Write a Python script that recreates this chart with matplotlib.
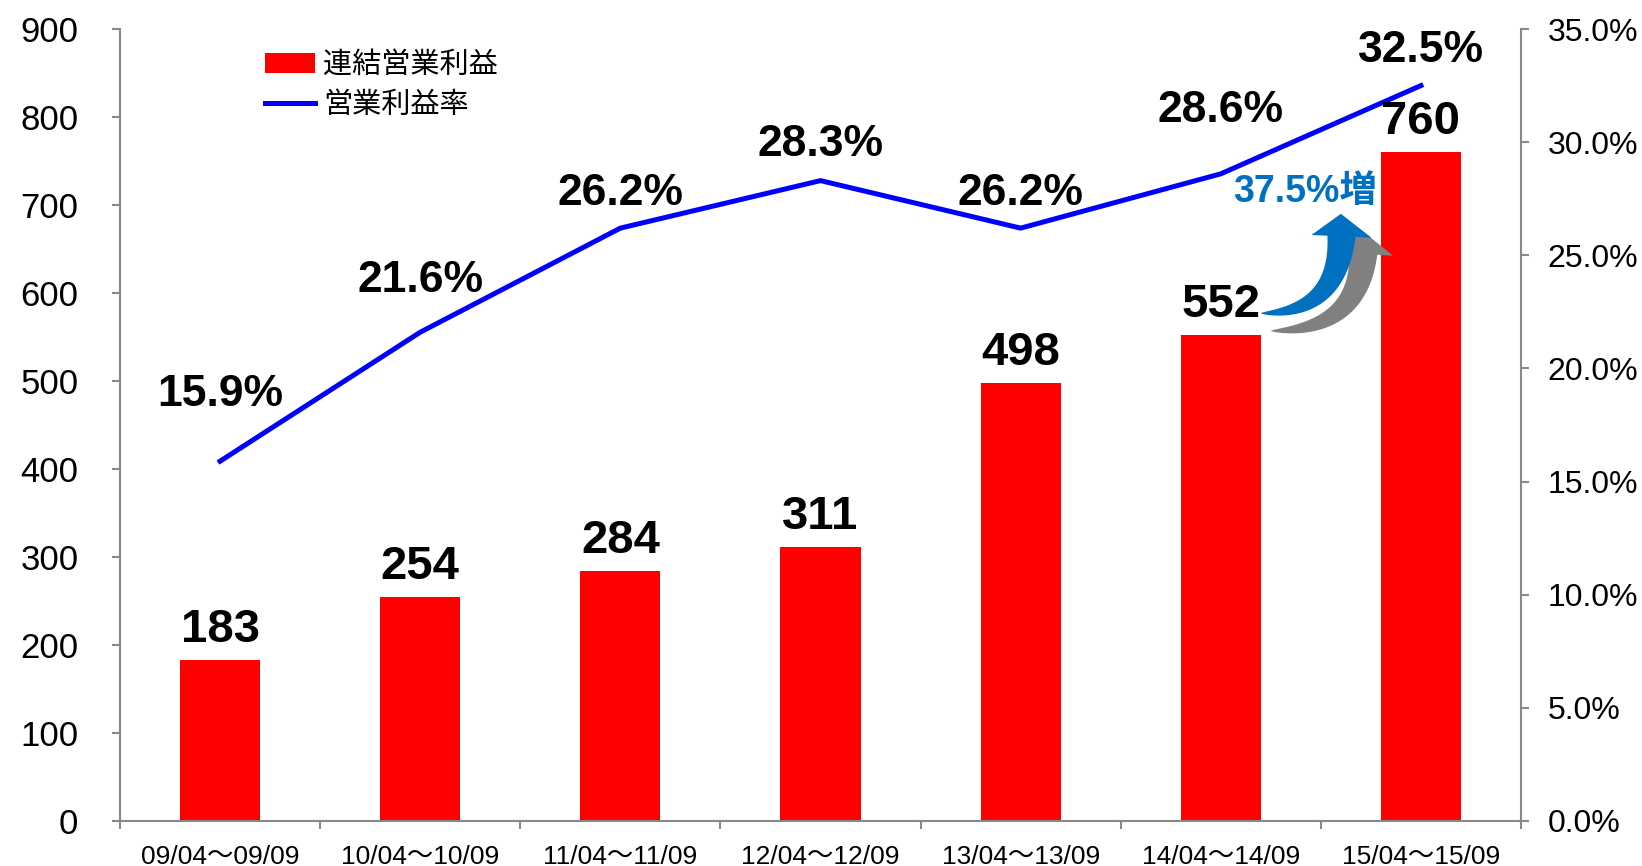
import numpy as np
import matplotlib.pyplot as plt
from matplotlib.patches import Polygon
from matplotlib.transforms import IdentityTransform
from matplotlib.ticker import FuncFormatter

periods = ['09/04～09/09', '10/04～10/09', '11/04～11/09', '12/04～12/09',
           '13/04～13/09', '14/04～14/09', '15/04～15/09']
profit = [183, 254, 284, 311, 498, 552, 760]
margin = [15.9, 21.6, 26.2, 28.3, 26.2, 28.6, 32.5]
growth_label = '37.5%増'

# label offsets (points above the point), hand-tuned like the original
margin_offsets = [40, 29, 17, 18, 17, 37, 17]

fam = ['Liberation Sans', 'Noto Sans CJK JP']
plt.rcParams['font.family'] = fam
gray = '#898989'


def curved_arrow(ax, tail, tip, color, body_w=28, head_w=60, head_l=22, z=5):
    # tapered curved arrow, built in pixel space from data-space end points
    p0 = ax.transData.transform(tail)
    p2 = ax.transData.transform(tip)
    c = np.array([p2[0] + 8, p0[1]])
    t = np.linspace(0, 1, 200)[:, None]
    pts = (1 - t) ** 2 * p0 + 2 * (1 - t) * t * c + t ** 2 * p2
    seg = np.cumsum(np.r_[0, np.hypot(*np.diff(pts, axis=0).T)])
    keep = seg <= seg[-1] - head_l
    body = pts[keep]
    d = np.gradient(body, axis=0)
    d /= np.hypot(d[:, 0], d[:, 1])[:, None]
    nrm = np.c_[-d[:, 1], d[:, 0]]
    w = (seg[keep] / seg[keep][-1]) ** 0.7 * body_w / 2
    left = body + nrm * w[:, None]
    right = body - nrm * w[:, None]
    base, n_end = body[-1], nrm[-1]
    poly = np.vstack([left, base + n_end * head_w / 2, p2,
                      base - n_end * head_w / 2, right[::-1]])
    ax.add_patch(Polygon(poly, closed=True, color=color, lw=0,
                         transform=IdentityTransform(), zorder=z))


fig = plt.figure(figsize=(16.42, 8.66), dpi=100)
ax = fig.add_axes([120/1642, 45/866, 1401/1642, 792/866])
x = np.arange(len(periods))

ax.bar(x, profit, width=0.4, color='#FF0000', label='連結営業利益', zorder=2)
ax.set_xlim(-0.5, len(periods) - 0.5)
ax.set_ylim(0, 900)
ax.set_yticks(range(0, 901, 100))
ax.tick_params(axis='y', labelsize=25, direction='out', length=6, width=1.5,
               color=gray, pad=24)
ax.set_xticks(np.arange(-0.5, len(periods)), labels=[''] * (len(periods) + 1))
ax.set_xticks(x, labels=periods, minor=True)
ax.tick_params(axis='x', which='major', direction='out', length=6, width=1.5, color=gray)
ax.tick_params(axis='x', which='minor', length=0, labelsize=19, pad=17)
for s in ['left', 'bottom']:
    ax.spines[s].set_color(gray)
    ax.spines[s].set_linewidth(1.5)
for s in ['top', 'right']:
    ax.spines[s].set_visible(False)

for xi, v in zip(x, profit):
    ax.annotate(str(v), (xi, v), xytext=(0, 13), textcoords='offset points',
                ha='center', va='baseline', fontsize=34, fontweight='bold')

ax2 = ax.twinx()
ax2.plot(x, margin, color='#0000FF', lw=3.6, label='営業利益率', zorder=3)
ax2.set_ylim(0, 35)
ax2.set_yticks(np.arange(0, 36, 5))
ax2.yaxis.set_major_formatter(FuncFormatter(lambda v, p: f'{v:.1f}%'))
ax2.tick_params(axis='y', labelsize=23, direction='out', length=6, width=1.5,
                color=gray, pad=13)
for s in ['left', 'bottom', 'top']:
    ax2.spines[s].set_visible(False)
ax2.spines['right'].set_color(gray)
ax2.spines['right'].set_linewidth(1.5)

for xi, v, off in zip(x, margin, margin_offsets):
    ax2.annotate(f'{v:.1f}%', (xi, v), xytext=(0, off), textcoords='offset points',
                 ha='center', va='baseline', fontsize=32, fontweight='bold')

ax.set_zorder(ax2.get_zorder() + 1)
ax.patch.set_visible(False)

# growth arrows between the last two bars
curved_arrow(ax, (5.25, 557), (5.71, 670), '#808080', z=4)
curved_arrow(ax, (5.2, 577), (5.6, 690), '#0070C0', z=5)
ax.text(5.42, 715, growth_label, ha='center', va='center', fontsize=27,
        fontweight='bold', color='#0070C0', family=fam)

h1, l1 = ax.get_legend_handles_labels()
h2, l2 = ax2.get_legend_handles_labels()
fig.legend(h1 + h2, l1 + l2, loc='upper left', bbox_to_anchor=(265/1642, 1 - 50/866),
           frameon=False, handlelength=1.7, handletextpad=0.3,
           labelspacing=0.35, borderpad=0, borderaxespad=0,
           prop={'family': 'Noto Sans CJK JP', 'size': 21})

plt.savefig('out.png', dpi=100)
